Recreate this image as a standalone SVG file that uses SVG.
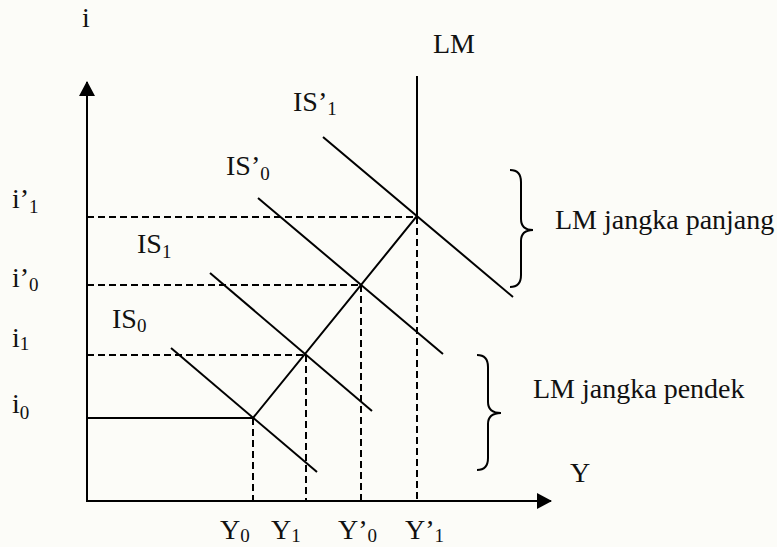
<svg xmlns="http://www.w3.org/2000/svg" width="777" height="547" viewBox="0 0 777 547">
<style>
text{font-family:"Liberation Serif","Tinos","DejaVu Serif",serif;font-size:28px;fill:#111}
.sub{font-size:19px}
.ln{stroke:#000;stroke-width:2;fill:none}
.ds{stroke:#000;stroke-width:2;fill:none;stroke-dasharray:7 4}
</style>
<defs>
<marker id="ah" markerWidth="16" markerHeight="16" refX="14" refY="8" orient="auto" markerUnits="userSpaceOnUse">
<path d="M0,0 L15,8 L0,16 Z" fill="#000"/>
</marker>
</defs>
<rect width="777" height="547" fill="#fcfcf8"/>
<g id="axes">
<line class="ln" x1="87" y1="502" x2="87" y2="82" marker-end="url(#ah)"/>
<line class="ln" x1="86" y1="501" x2="551" y2="501" marker-end="url(#ah)"/>
<text x="82" y="27">i</text>
<text x="570" y="482">Y</text>
</g>
<g id="connectors">
<line class="ds" x1="87" y1="217" x2="417" y2="217"/>
<line class="ds" x1="87" y1="285" x2="361" y2="285"/>
<line class="ds" x1="87" y1="355" x2="306" y2="355"/>
<line class="ln" x1="87" y1="418" x2="253" y2="418"/>
<line class="ds" x1="253" y1="418" x2="253" y2="501"/>
<line class="ds" x1="306" y1="355" x2="306" y2="501"/>
<line class="ds" x1="361" y1="285" x2="361" y2="501"/>
<line class="ds" x1="417" y1="217" x2="417" y2="501"/>
</g>
<g id="LM">
<polyline class="ln" points="253,418 417,216 417,76"/>
<text x="433" y="53">LM</text>
</g>
<g id="IS0">
<line class="ln" x1="171" y1="348" x2="317" y2="472"/>
<text x="112" y="328">IS<tspan class="sub" dy="4">0</tspan></text>
</g>
<g id="IS1">
<line class="ln" x1="210" y1="273" x2="372" y2="411"/>
<text x="137" y="253">IS<tspan class="sub" dy="5">1</tspan></text>
</g>
<g id="IS0p">
<line class="ln" x1="258" y1="198" x2="443" y2="354"/>
<text x="226" y="175">IS’<tspan class="sub" dy="5">0</tspan></text>
</g>
<g id="IS1p">
<line class="ln" x1="323" y1="137" x2="513" y2="297"/>
<text x="293" y="111">IS’<tspan class="sub" dy="4">1</tspan></text>
</g>
<g id="i-labels">
<text x="12" y="208">i’<tspan class="sub" dy="5">1</tspan></text>
<text x="12" y="287">i’<tspan class="sub" dy="4">0</tspan></text>
<text x="12" y="347">i<tspan class="sub" dy="3">1</tspan></text>
<text x="12" y="413">i<tspan class="sub" dy="6">0</tspan></text>
</g>
<g id="Y-labels">
<text x="220" y="539">Y<tspan class="sub" dy="3">0</tspan></text>
<text x="271" y="539">Y<tspan class="sub" dy="3">1</tspan></text>
<text x="338" y="539">Y’<tspan class="sub" dy="3">0</tspan></text>
<text x="405" y="539">Y’<tspan class="sub" dy="3">1</tspan></text>
</g>
<g id="brace-long">
<path class="ln" d="M510,170 Q521,170 521,182 L521,219 Q521,230 533,230 Q521,230 521,241 L521,275 Q521,287 510,287"/>
<text x="555" y="229">LM jangka panjang</text>
</g>
<g id="brace-short">
<path class="ln" d="M477,355 Q488,355 488,367 L488,402 Q488,413 501,413 Q488,413 488,424 L488,458 Q488,470 477,470"/>
<text x="533" y="398">LM jangka pendek</text>
</g>
</svg>
